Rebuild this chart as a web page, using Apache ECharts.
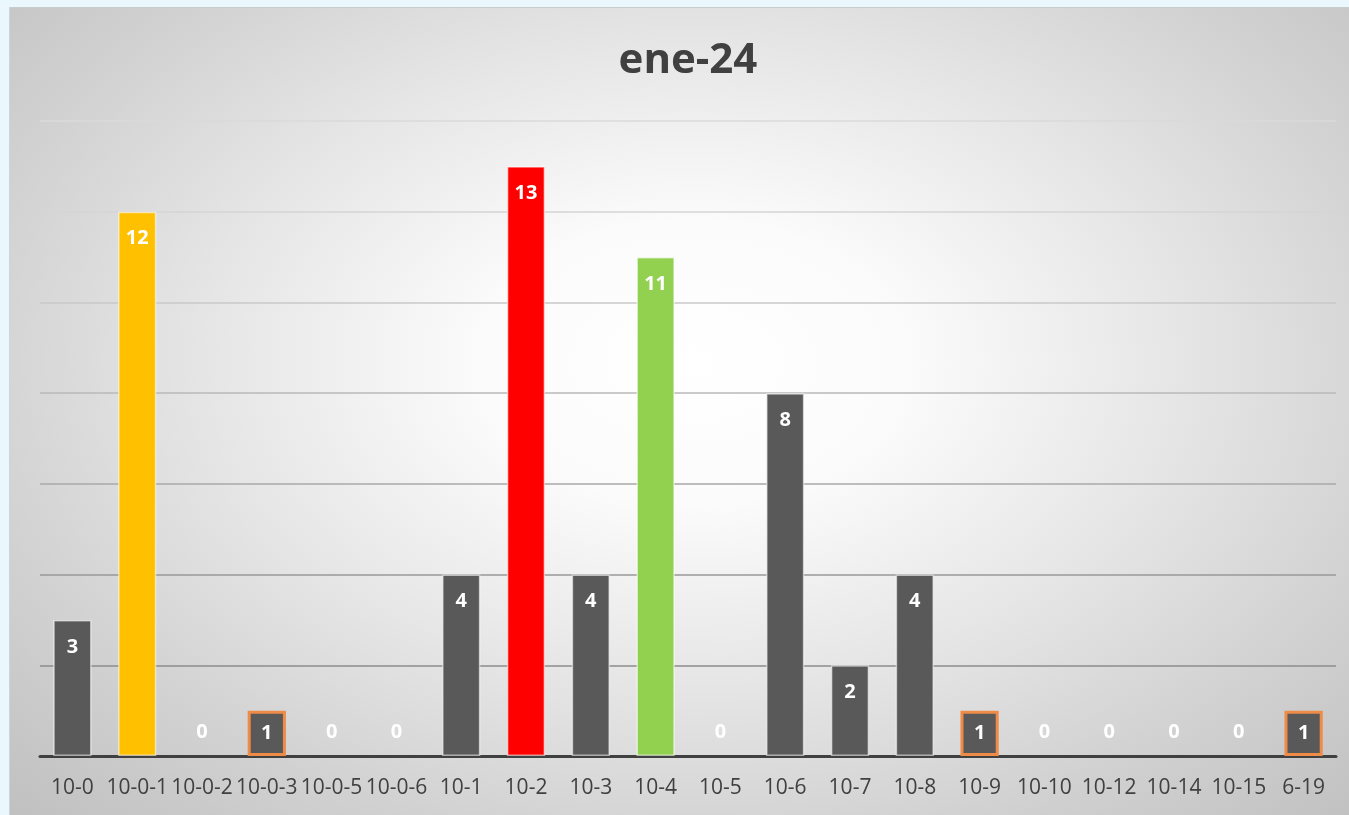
<!DOCTYPE html>
<html>
<head>
<meta charset="utf-8">
<script src="https://cdn.jsdelivr.net/npm/echarts@6/dist/echarts.min.js"></script>
<style>
html,body{margin:0;padding:0;width:1349px;height:815px;background:#EAF8FE;overflow:hidden;}
#c{position:absolute;left:9px;top:7px;width:1340px;height:808px;border-top:1px solid #c8cccc;border-left:1px solid #d0d4d4;box-sizing:border-box;
background:radial-gradient(ellipse farthest-corner at 51% 44%, #ffffff 0%, #fbfbfb 22%, #e6e6e6 50%, #d2d2d2 75%, #c0c0c0 100%);}
</style>
</head>
<body>
<div id="c"></div>
<script>
const title = 'ene-24';
const categories = ['10-0','10-0-1','10-0-2','10-0-3','10-0-5','10-0-6','10-1','10-2','10-3','10-4','10-5','10-6','10-7','10-8','10-9','10-10','10-12','10-14','10-15','6-19'];
const values = [3,12,0,1,0,0,4,13,4,11,0,8,2,4,1,0,0,0,0,1];
const fillColors = ['#595959','#FFC000','#595959','#595959','#595959','#595959','#595959','#FF0000','#595959','#92D050','#595959','#595959','#595959','#595959','#595959','#595959','#595959','#595959','#595959','#595959'];
const orangeBorder = [false,false,false,true,false,false,false,false,false,false,false,false,false,false,true,false,false,false,false,true];
const yTicks = [0,2,4,6,8,10,12,14];
const gridColors = ['#404040','#8c8c8c','#999999','#a8a8a8','#b8b8b8','#c8c8c8','#d4d4d4','#dadada'];

const FONT = '"Open Sans", "Liberation Sans", sans-serif';
const data = values.map((v, i) => {
  const item = {
    value: v,
    itemStyle: {
      color: fillColors[i],
      borderColor: orangeBorder[i] ? '#ED8B47' : 'rgba(255,255,255,0.55)',
      borderWidth: v === 0 ? 0 : (orangeBorder[i] ? 3 : 1.5)
    }
  };
  if (v === 0) {
    item.label = { position: 'top', distance: 14 };
  } else if (v === 1) {
    item.label = { position: 'inside' };
  }
  return item;
});

const chart = echarts.init(document.getElementById('c'), null, {renderer: 'canvas'});
chart.setOption({
  backgroundColor: 'transparent',
  animation: false,
  title: {
    text: title, left: 673, textAlign: 'center', top: 27,
    textStyle: {fontFamily: FONT, fontSize: 42, fontWeight: 'bold', color: '#404040'}
  },
  grid: {left: 30, right: 13, top: 113, bottom: 59, containLabel: false},
  xAxis: {
    type: 'category', data: categories,
    axisLine: {lineStyle: {color: '#404040', width: 3}},
    axisTick: {show: false},
    axisLabel: {fontFamily: FONT, fontSize: 21, color: '#404040', margin: 22, interval: 0}
  },
  yAxis: {
    type: 'value', min: yTicks[0], max: yTicks[yTicks.length - 1], interval: 2,
    axisLabel: {show: false}, axisLine: {show: false}, axisTick: {show: false},
    splitLine: {lineStyle: {color: gridColors, width: 1.5}}
  },
  series: [{
    type: 'bar', data: data, barWidth: '59%',
    label: {
      show: true, position: 'insideTop', distance: 17,
      color: '#ffffff', fontFamily: FONT, fontSize: 20, fontWeight: 'bold'
    }
  }]
});
</script>
</body>
</html>
